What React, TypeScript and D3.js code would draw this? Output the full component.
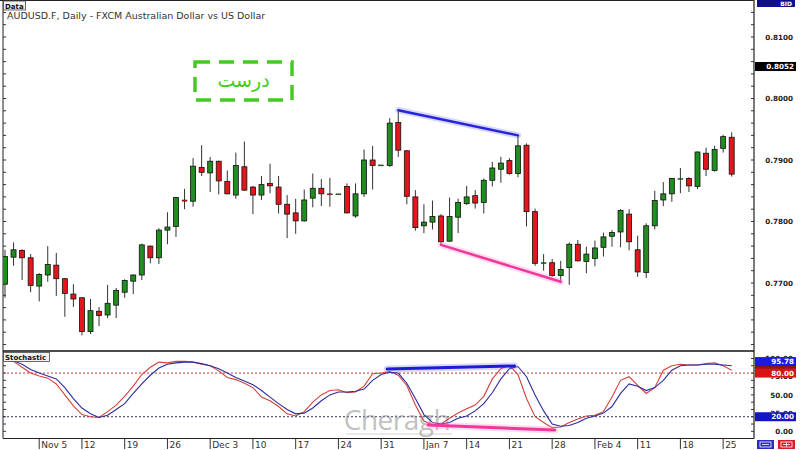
import React from "react";
import * as d3 from "d3";

const opens = [0.7698,0.7742,0.7753,0.7741,0.7695,0.7713,0.7729,0.7707,0.7682,0.7676,
0.7621,0.7654,0.7648,0.7664,0.7685,0.7703,0.7713,0.7760,0.7741,0.7786,
0.7792,0.7835,0.7833,0.7888,0.7879,0.7898,0.7865,0.7843,0.7889,0.7856,
0.7843,0.7862,0.7856,0.7828,0.7814,0.7801,0.7838,0.7854,0.7845,0.7845,
0.7857,0.7809,0.7845,0.7900,0.7892,0.7891,0.7961,0.7915,0.7840,0.7793,
0.7799,0.7809,0.7768,0.7807,0.7829,0.7842,0.7831,0.7867,0.7885,0.7899,
0.7878,0.7924,0.7816,0.7732,0.7733,0.7712,0.7725,0.7763,0.7735,0.7740,
0.7758,0.7776,0.7783,0.7812,0.7754,0.7717,0.7793,0.7835,0.7845,0.7869,
0.7870,0.7857,0.7911,0.7883,0.7919,0.7937];
const highs = [0.7754,0.7766,0.7755,0.7747,0.7716,0.7760,0.7749,0.7708,0.7698,0.7677,
0.7674,0.7661,0.7697,0.7692,0.7706,0.7714,0.7764,0.7761,0.7789,0.7815,
0.7840,0.7853,0.7903,0.7924,0.7905,0.7899,0.7883,0.7912,0.7930,0.7858,
0.7874,0.7894,0.7874,0.7843,0.7837,0.7852,0.7878,0.7869,0.7871,0.7845,
0.7862,0.7862,0.7917,0.7923,0.7892,0.7968,0.7981,0.7916,0.7851,0.7828,
0.7834,0.7812,0.7839,0.7837,0.7858,0.7851,0.7870,0.7897,0.7905,0.7903,
0.7940,0.7927,0.7821,0.7747,0.7739,0.7736,0.7766,0.7770,0.7759,0.7769,
0.7782,0.7786,0.7820,0.7820,0.7777,0.7797,0.7850,0.7864,0.7871,0.7887,
0.7872,0.7914,0.7920,0.7923,0.7941,0.7945];
const lows = [0.7676,0.7728,0.7705,0.7685,0.7670,0.7702,0.7679,0.7645,0.7661,0.7615,
0.7617,0.7630,0.7643,0.7643,0.7676,0.7682,0.7705,0.7732,0.7731,0.7763,
0.7775,0.7820,0.7824,0.7874,0.7848,0.7844,0.7844,0.7837,0.7850,0.7812,
0.7835,0.7846,0.7813,0.7773,0.7780,0.7800,0.7823,0.7825,0.7824,0.7845,
0.7813,0.7806,0.7840,0.7852,0.7892,0.7889,0.7905,0.7828,0.7785,0.7781,
0.7787,0.7762,0.7767,0.7781,0.7827,0.7821,0.7813,0.7857,0.7863,0.7876,
0.7872,0.7792,0.7728,0.7720,0.7710,0.7702,0.7697,0.7735,0.7716,0.7727,
0.7743,0.7759,0.7758,0.7753,0.7710,0.7708,0.7787,0.7825,0.7832,0.7846,
0.7848,0.7853,0.7874,0.7881,0.7912,0.7873];
const closes = [0.7743,0.7754,0.7741,0.7696,0.7714,0.7730,0.7707,0.7683,0.7674,0.7621,
0.7655,0.7647,0.7667,0.7688,0.7704,0.7713,0.7762,0.7741,0.7786,0.7791,
0.7839,0.7833,0.7890,0.7880,0.7898,0.7866,0.7845,0.7891,0.7851,0.7843,
0.7860,0.7858,0.7828,0.7812,0.7801,0.7835,0.7854,0.7845,0.7844,0.7845,
0.7814,0.7845,0.7900,0.7891,0.7892,0.7960,0.7916,0.7841,0.7790,0.7799,
0.7808,0.7767,0.7808,0.7831,0.7840,0.7830,0.7867,0.7887,0.7895,0.7878,
0.7923,0.7816,0.7732,0.7733,0.7712,0.7722,0.7763,0.7736,0.7747,0.7757,
0.7775,0.7782,0.7818,0.7767,0.7718,0.7793,0.7834,0.7845,0.7870,0.7870,
0.7858,0.7913,0.7885,0.7917,0.7938,0.7877];

const stochK = [98,96,88,80,76,73,65,50,35,23,20,19,27,36,48,62,78,88,95,94,
96,96,95,92,90,83,74,71,66,60,47,42,34,24,21,27,40,50,56,57,
53,54,62,79,80,82,77,63,36,14,9,10,18,25,31,36,48,72,86,91,
78,45,20,12,5,6,12,17,21,22,27,47,70,75,63,52,60,84,90,92,
91,91,93,94,90,84];
const stochD = [98,97,92,85,80,76,72,60,45,32,24,19,22,30,38,52,65,77,87,92,
94,95,95,93,90,86,80,74,69,64,56,47,38,30,24,25,32,42,50,54,
54,55,58,70,78,81,80,66,45,23,12,10,12,18,21,28,38,53,72,86,
89,75,50,28,10,7,8,12,18,21,25,34,52,65,62,56,60,70,84,90,
91,91,92,92,91,90];

const tickLabels = ["Nov 5","12","19","26","Dec 3","10","17","24","31","Jan 7","14","21","28","Feb 4","11","18","25"];
const tickBars = [4,9,14,19,24,29,34,39,44,49,54,59,64,69,74,79,84];
const priceLabels = [0.77, 0.78, 0.79, 0.80, 0.81];
const stochLabels = [0, 25, 50, 75, 100];
const stochLevels = [80, 20];
const lastPrice = 0.8052;
const lastK = 95.78;
const lastD = 90;
const priceDivHigh = [46, 60];
const priceDivLow = [51, 65];
const stochDivHigh: [number, number][] = [[44.7, 85.6], [59.6, 89.7]];
const stochDivLow: [number, number][] = [[49.5, 8.7], [64.3, 1.8]];

const FONT = "'DejaVu Sans', Verdana, sans-serif";

export default function App() {
  const left = 3, right = 754, top = 0.5, mainBottom = 351, stBottom = 438.5;
  const x = d3.scaleLinear().domain([0, 85]).range([5, 731.7]);
  const y = d3.scaleLinear().domain([0.77, 0.81]).range([283, 37]);
  const ys = d3.scaleLinear().domain([0, 100]).range([431.3, 358.5]);
  const bw = 5;
  const minorPrice = d3.range(0, 29).map((i) => 0.76 + i * 0.002);
  const minorStoch = d3.range(0, 11).map((i) => i * 10);
  const lineS = d3.line<number>().x((_, i) => x(i)).y((d) => ys(d));
  const green = "#1f8d1f", red = "#e4161c";

  const seg = (pts: [number, number][], color: string, glow: string, w: number, key: string) => (
    <g key={key}>
      <line x1={pts[0][0]} y1={pts[0][1]} x2={pts[1][0]} y2={pts[1][1]} stroke={glow} strokeWidth={w + 4} strokeOpacity={0.3} strokeLinecap="round" />
      <line x1={pts[0][0]} y1={pts[0][1]} x2={pts[1][0]} y2={pts[1][1]} stroke={color} strokeWidth={w} strokeLinecap="round" />
    </g>
  );

  return (
    <svg width={800} height={450} style={{ position: "absolute", left: 0, top: 0, background: "#fff" }} fontFamily={FONT}>
      <defs>
        <clipPath id="mainClip"><rect x={left} y={top} width={right - left} height={mainBottom - top} /></clipPath>
        <clipPath id="stClip"><rect x={left} y={mainBottom} width={right - left} height={stBottom - mainBottom} /></clipPath>
      </defs>
      <rect x={0} y={0} width={800} height={450} fill="#fff" />

      {/* frames */}
      <line x1={0} y1={top} x2={right} y2={top} stroke="#222" strokeWidth={1.2} />
      <line x1={left} y1={0} x2={left} y2={stBottom} stroke="#222" strokeWidth={1} />
      <line x1={right} y1={0} x2={right} y2={stBottom} stroke="#222" strokeWidth={1.2} />
      <line x1={left} y1={mainBottom} x2={right} y2={mainBottom} stroke="#111" strokeWidth={1.5} />
      <line x1={left} y1={stBottom} x2={right} y2={stBottom} stroke="#222" strokeWidth={1} />

      {/* minor ticks */}
      {minorPrice.map((p, i) => (
        <g key={"mp" + i}>
          <line x1={right - 3} x2={right} y1={y(p)} y2={y(p)} stroke="#333" />
          <line x1={left} x2={left + 3} y1={y(p)} y2={y(p)} stroke="#333" />
        </g>
      ))}
      {minorStoch.map((v, i) => (
        <g key={"ms" + i}>
          <line x1={right - 3} x2={right} y1={ys(v)} y2={ys(v)} stroke="#333" />
          <line x1={left} x2={left + 3} y1={ys(v)} y2={ys(v)} stroke="#333" />
        </g>
      ))}

      {/* title and data tab */}
      <rect x={3.5} y={1} width={22} height={9} fill="#f2f2f2" stroke="#444" strokeWidth={0.8} />
      <text x={5} y={8.5} fontSize={7} fontWeight="bold" fill="#111">Data</text>
      <text x={7} y={19} fontSize={9.5} fill="#333">AUDUSD.F, Daily - FXCM Australian Dollar vs US Dollar</text>

      {/* candles */}
      <g clipPath="url(#mainClip)">
        {opens.map((o, i) => {
          const c = closes[i];
          const up = c >= o;
          const yt = y(Math.max(o, c));
          const yb = y(Math.min(o, c));
          const h = Math.max(1, yb - yt);
          return (
            <g key={"c" + i}>
              <line x1={x(i)} x2={x(i)} y1={y(highs[i])} y2={y(lows[i])} stroke="#333" strokeWidth={1} />
              <rect x={x(i) - bw / 2} y={yt} width={bw} height={h} fill={up ? green : red} stroke="#111" strokeWidth={h > 1.5 ? 0.8 : 0.4} />
            </g>
          );
        })}
        {seg([[x(priceDivHigh[0]), y(highs[priceDivHigh[0]])], [x(priceDivHigh[1]), y(highs[priceDivHigh[1]])]], "#2626d8", "#7a7aff", 2.5, "bh")}
        {seg([[x(priceDivLow[0]), y(lows[priceDivLow[0]])], [x(priceDivLow[1]), y(lows[priceDivLow[1]])]], "#f0389a", "#ff8ccc", 2.5, "pl")}
      </g>

      {/* annotation box */}
      <rect x={195} y={62} width={97} height={38} fill="none" stroke="#43cc1f" strokeWidth={3.5} strokeDasharray="15 9" />
      <text x={243.5} y={87} fontSize={19} fill="#43cc1f" textAnchor="middle" fontFamily="'DejaVu Sans', 'Noto Sans', sans-serif">درست</text>

      {/* price axis labels */}
      {priceLabels.map((p, i) => (
        <text key={"pl" + i} x={793} y={y(p) + 2.6} fontSize={7.2} fontWeight="bold" fill="#222" textAnchor="end">{p.toFixed(4)}</text>
      ))}
      <rect x={757} y={0} width={38} height={7} fill="#10108a" />
      <text x={792} y={6} fontSize={6} fontWeight="bold" fill="#fff" textAnchor="end">BID</text>
      <rect x={755} y={y(lastPrice) - 4.5} width={41} height={9} fill="#000" />
      <text x={794} y={y(lastPrice) + 2.6} fontSize={7.2} fontWeight="bold" fill="#fff" textAnchor="end">{lastPrice.toFixed(4)}</text>

      {/* stochastic */}
      <g clipPath="url(#stClip)">
        {stochLevels.map((v, i) => (
          <line key={"lv" + i} x1={left} x2={right} y1={ys(v)} y2={ys(v)} stroke={i === 0 ? "#c23a3a" : "#333355"} strokeWidth={1} strokeDasharray="2 2" />
        ))}
      </g>
      <text x={397} y={430} fontSize={28} fill="#8c8c8c" fillOpacity={0.55} textAnchor="middle" fontFamily="'Open Sans', 'Noto Sans', sans-serif" letterSpacing={-0.5}>Cheragh</text>
      <line x1={346} x2={452} y1={434} y2={434} stroke="#aaa" strokeOpacity={0.5} strokeWidth={1} />
      <g clipPath="url(#stClip)">
        <path d={lineS(stochK) || ""} fill="none" stroke="#d4403a" strokeWidth={1.1} />
        <path d={lineS(stochD) || ""} fill="none" stroke="#2c2c9c" strokeWidth={1.1} />
        {seg([[x(stochDivHigh[0][0]), ys(stochDivHigh[0][1])], [x(stochDivHigh[1][0]), ys(stochDivHigh[1][1])]], "#1c1cd6", "#8080ff", 3, "sh")}
        {seg([[x(stochDivLow[0][0]), ys(stochDivLow[0][1])], [x(stochDivLow[1][0]), ys(stochDivLow[1][1])]], "#f0389a", "#ff8ccc", 3, "sl")}
      </g>
      <rect x={3.5} y={352.5} width={46} height={9} fill="#f2f2f2" stroke="#444" strokeWidth={0.8} />
      <text x={5} y={360} fontSize={7} fontWeight="bold" fill="#111">Stochastic</text>

      {/* stochastic axis labels */}
      {stochLabels.map((v, i) => (
        <text key={"sl" + i} x={793} y={ys(v) + 2.6} fontSize={7.2} fontWeight="bold" fill="#222" textAnchor="end">{v.toFixed(2)}</text>
      ))}
      <rect x={755} y={ys(lastD) - 4.5} width={41} height={9} fill="#8a1818" />
      <rect x={755} y={ys(lastK) - 4.5} width={41} height={9} fill="#1a1ae0" />
      <text x={794} y={ys(lastK) + 2.6} fontSize={7.2} fontWeight="bold" fill="#fff" textAnchor="end">{lastK.toFixed(2)}</text>
      <rect x={755} y={ys(80) - 4.5} width={41} height={9} fill="#d81414" />
      <text x={794} y={ys(80) + 2.6} fontSize={7.2} fontWeight="bold" fill="#fff" textAnchor="end">80.00</text>
      <rect x={755} y={ys(20) - 4.5} width={41} height={9} fill="#1414c0" />
      <text x={794} y={ys(20) + 2.6} fontSize={7.2} fontWeight="bold" fill="#fff" textAnchor="end">20.00</text>

      {/* date axis */}
      {tickBars.map((b, i) => (
        <g key={"t" + i}>
          <line x1={x(b)} x2={x(b)} y1={stBottom} y2={449} stroke="#333" strokeWidth={1} />
          <text x={x(b) + 2} y={448} fontSize={9} fill="#333">{tickLabels[i]}</text>
        </g>
      ))}

      {/* bottom-right buttons */}
      <rect x={757} y={440} width={17} height={9} fill="#2b2bbd" />
      <rect x={760} y={442} width={11} height={5} fill="none" stroke="#fff" strokeWidth={0.8} />
      <line x1={762} x2={769} y1={444.5} y2={444.5} stroke="#fff" strokeWidth={0.8} />
      <rect x={778} y={440} width={17} height={9} fill="#d42020" />
      <rect x={781} y={442} width={11} height={5} fill="none" stroke="#fff" strokeWidth={0.8} />
      <line x1={783} x2={790} y1={444.5} y2={444.5} stroke="#fff" strokeWidth={0.8} />
      <line x1={786.5} x2={786.5} y1={442.5} y2={446.5} stroke="#fff" strokeWidth={0.8} />
    </svg>
  );
}
